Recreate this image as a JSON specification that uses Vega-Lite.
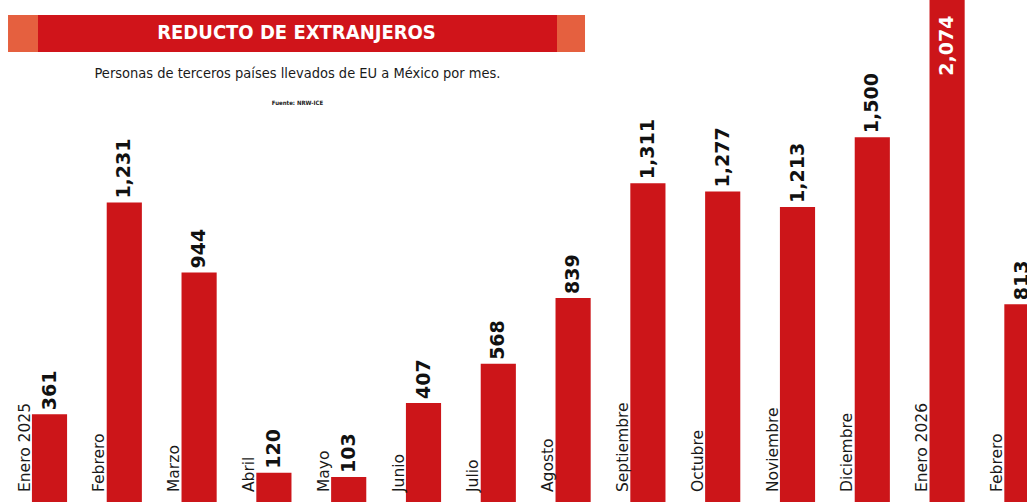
{
  "$schema": "https://vega.github.io/schema/vega-lite/v6.json",
  "width": 1027,
  "height": 502,
  "autosize": {"type": "none"},
  "padding": 0,
  "background": "white",
  "config": {"view": {"stroke": null}},
  "title": {
    "text": "Personas de terceros países llevados de EU a México por mes.",
    "subtitle": "Fuente: NRW-ICE",
    "orient": "top",
    "frame": "group",
    "anchor": "middle",
    "offset": -107,
    "dx": -216,
    "font": "Liberation Sans Narrow, DejaVu Sans Condensed, Roboto",
    "fontSize": 14.5,
    "fontWeight": "normal",
    "color": "#1a1a1a",
    "subtitleFont": "Liberation Sans Narrow, DejaVu Sans Condensed, Roboto",
    "subtitleFontSize": 6,
    "subtitleFontWeight": "bold",
    "subtitleColor": "#1a1a1a",
    "subtitlePadding": 19
  },
  "layer": [
    {
      "data": {
        "values": [
          {"periodo": "2025-01", "label": "Enero 2025", "value": 361},
          {"periodo": "2025-02", "label": "Febrero", "value": 1231},
          {"periodo": "2025-03", "label": "Marzo", "value": 944},
          {"periodo": "2025-04", "label": "Abril", "value": 120},
          {"periodo": "2025-05", "label": "Mayo", "value": 103},
          {"periodo": "2025-06", "label": "Junio", "value": 407},
          {"periodo": "2025-07", "label": "Julio", "value": 568},
          {"periodo": "2025-08", "label": "Agosto", "value": 839},
          {"periodo": "2025-09", "label": "Septiembre", "value": 1311},
          {"periodo": "2025-10", "label": "Octubre", "value": 1277},
          {"periodo": "2025-11", "label": "Noviembre", "value": 1213},
          {"periodo": "2025-12", "label": "Diciembre", "value": 1500},
          {"periodo": "2026-01", "label": "Enero 2026", "value": 2074},
          {"periodo": "2026-02", "label": "Febrero", "value": 813}
        ]
      },
      "encoding": {
        "x": {
          "field": "periodo",
          "type": "ordinal",
          "scale": {"range": [12.1, 1059.3], "paddingInner": 0.53, "paddingOuter": 0.265},
          "axis": null
        }
      },
      "layer": [
        {
          "mark": {"type": "bar", "color": "#cc1519", "clip": true},
          "encoding": {
            "y": {"field": "value", "type": "quantitative", "scale": {"domain": [0, 2064], "nice": false}, "axis": null}
          }
        },
        {
          "mark": {"type": "text", "angle": 270, "align": "left", "baseline": "middle", "dx": 10, "dy": -25, "fontSize": 15.5, "font": "DejaVu Sans", "color": "#1a1a1a", "clip": true},
          "encoding": {
            "y": {"datum": 0, "type": "quantitative"},
            "text": {"field": "label"}
          }
        },
        {
          "transform": [{"filter": "datum.value < 2000"}],
          "mark": {"type": "text", "angle": 270, "align": "left", "baseline": "middle", "dx": 4, "fontSize": 19, "fontWeight": "bold", "font": "DejaVu Sans", "color": "#111111", "clip": true},
          "encoding": {
            "y": {"field": "value", "type": "quantitative"},
            "text": {"field": "value", "type": "quantitative", "format": ","}
          }
        },
        {
          "transform": [{"filter": "datum.value >= 2000"}],
          "mark": {"type": "text", "angle": 270, "align": "right", "baseline": "middle", "dx": -18, "fontSize": 19, "fontWeight": "bold", "font": "DejaVu Sans", "color": "white", "clip": true},
          "encoding": {
            "y": {"field": "value", "type": "quantitative"},
            "text": {"field": "value", "type": "quantitative", "format": ","}
          }
        }
      ]
    },
    {
      "data": {"values": [{"label": "REDUCTO DE EXTRANJEROS"}]},
      "layer": [
        {
          "mark": {
            "type": "rect",
            "color": {
              "gradient": "linear",
              "x1": 0, "x2": 1, "y1": 0, "y2": 0,
              "stops": [
                {"offset": 0, "color": "#e5603f"},
                {"offset": 0.052, "color": "#e5603f"},
                {"offset": 0.052, "color": "#d0141a"},
                {"offset": 0.951, "color": "#d0141a"},
                {"offset": 0.951, "color": "#e5603f"},
                {"offset": 1, "color": "#e5603f"}
              ]
            }
          },
          "encoding": {
            "x": {"datum": "2025-01", "type": "ordinal", "bandPosition": -0.68},
            "x2": {"datum": "2025-08", "bandPosition": 0.839},
            "y": {"datum": 2002.3, "type": "quantitative"},
            "y2": {"datum": 1850.2}
          }
        },
        {
          "mark": {
            "type": "text",
            "color": "white",
            "fontWeight": "bold",
            "fontSize": 20,
            "font": "Liberation Sans Narrow, DejaVu Sans Condensed, Roboto",
            "align": "center",
            "baseline": "middle"
          },
          "encoding": {
            "x": {"datum": "2025-04", "type": "ordinal", "bandPosition": 1.143},
            "y": {"datum": 1926.3, "type": "quantitative"},
            "text": {"field": "label"}
          }
        }
      ]
    }
  ]
}
